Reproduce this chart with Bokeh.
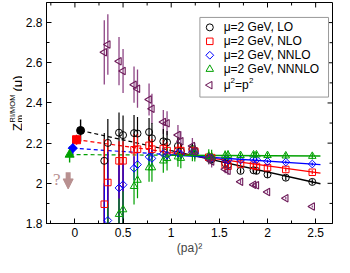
import math
from bokeh.plotting import figure
from bokeh.layouts import row
from bokeh.models import (Range1d, LinearAxis, FixedTicker, NumeralTickFormatter,
                          Label, Arrow, NormalHead)
from bokeh.core.properties import value
from bokeh.embed import file_html
from bokeh.resources import INLINE

# ---------------- data ----------------
pa2 = [0.305, 0.342, 0.458, 0.500, 0.614, 0.650, 0.770, 0.800, 0.918, 0.957, 1.070, 1.100,
       1.220, 1.245, 1.390, 1.420, 1.560, 1.590, 1.720, 1.855, 1.885, 2.000, 2.190, 2.465]

lo_y = [2.112, 2.201, 2.252, 2.240, 2.250, 2.248, 2.255, 2.224, 2.209, 2.204, 2.186, 2.160,
        2.170, 2.160, 2.125, 2.120, 2.100, 2.092, 2.062, 2.065, 2.062, 2.044, 2.028, 2.007]
lo_low = [1.70, 1.70, 1.70, 1.70, 2.16, 2.16, 2.185, 2.15, 2.15, 2.15, 2.14, 2.12,
          2.14, 2.13, 2.10, 2.095, 2.08, 2.07, 2.049, 2.050, 2.047, 2.028, 2.014, 1.994]
lo_high = [2.25, 2.32, 2.352, 2.337, 2.34, 2.33, 2.325, 2.30, 2.27, 2.26, 2.23, 2.20,
           2.20, 2.19, 2.15, 2.145, 2.12, 2.115, 2.075, 2.080, 2.077, 2.060, 2.042, 2.020]

nlo_y = [1.896, 2.004, 2.112, 2.112, 2.167, 2.170, 2.189, 2.170, 2.173, 2.163, 2.163, 2.163,
         2.163, 2.160, 2.130, 2.128, 2.093, 2.085, 2.096, 2.090, 2.084, 2.078, 2.069, 2.055]
nlo_low = [1.70, 1.70, 1.70, 1.70, 2.09, 2.09, 2.14, 2.12, 2.13, 2.12, 2.13, 2.13,
           2.14, 2.14, 2.115, 2.113, 2.081, 2.073, 2.086, 2.080, 2.074, 2.068, 2.059, 2.045]
nlo_high = [2.22, 2.22, 2.21, 2.21, 2.245, 2.25, 2.24, 2.22, 2.215, 2.205, 2.195, 2.195,
            2.186, 2.183, 2.145, 2.143, 2.105, 2.097, 2.106, 2.100, 2.094, 2.088, 2.079, 2.065]

nnlo_y = [1.620, 1.815, 1.977, 1.993, 2.075, 2.093, 2.132, 2.124, 2.147, 2.140, 2.150, 2.145,
          2.155, 2.150, 2.128, 2.125, 2.118, 2.115, 2.116, 2.120, 2.118, 2.109, 2.106, 2.096]
nnlo_low = [1.30, 1.50, 1.75, 1.75, 2.015, 2.033, 2.09, 2.084, 2.117, 2.110, 2.13, 2.125,
            2.14, 2.135, 2.115, 2.112, 2.106, 2.103, 2.108, 2.112, 2.110, 2.101, 2.098, 2.088]
nnlo_high = [2.00, 2.157, 2.09, 2.10, 2.135, 2.153, 2.172, 2.164, 2.177, 2.170, 2.17, 2.165,
             2.17, 2.165, 2.141, 2.138, 2.130, 2.127, 2.124, 2.128, 2.126, 2.117, 2.114, 2.104]

nnnlo_y = [1.550, 1.650, 1.846, 1.869, 1.985, 2.016, 2.078, 2.078, 2.112, 2.124, 2.132, 2.125,
           2.150, 2.148, 2.135, 2.132, 2.138, 2.140, 2.139, 2.142, 2.142, 2.139, 2.137, 2.135]
nnnlo_low = [1.30, 1.40, 1.72, 1.77, 1.895, 1.926, 2.008, 2.008, 2.052, 2.064, 2.082, 2.075,
             2.110, 2.108, 2.100, 2.097, 2.113, 2.115, 2.124, 2.127, 2.127, 2.124, 2.122, 2.120]
nnnlo_high = [1.80, 1.90, 1.925, 1.96, 2.075, 2.106, 2.148, 2.148, 2.172, 2.184, 2.182, 2.175,
              2.190, 2.188, 2.170, 2.167, 2.163, 2.165, 2.154, 2.157, 2.157, 2.154, 2.152, 2.150]

mom_y = [2.652, 2.691, 2.608, 2.559, 2.491, 2.471, 2.417, 2.371, 2.305, 2.299, 2.240, 2.209,
         2.186, 2.160, 2.124, 2.109, 2.070, 2.062, 2.008, 1.993, 1.990, 1.957, 1.926, 1.885]
mom_err = [0.16, 0.15, 0.12, 0.11, 0.09, 0.095, 0.08, 0.075, 0.06, 0.06, 0.05, 0.05,
           0.04, 0.04, 0.03, 0.03, 0.02, 0.02, 0.01, 0.01, 0.01, 0.008, 0.006, 0.005]

# extrapolated (filled) points: LO, NLO, NNLO, NNNLO
ext_x = [0.059, 0.017, -0.022, -0.055]
ext_y = [2.263, 2.217, 2.175, 2.143]
ext_err = [0.055, 0.025, 0.030, 0.040]

# fitted lines: dashed from the filled point to 1.0, solid from 1.0 to 2.55
fit_lo_x = [0.059, 1.0, 2.55];    fit_lo_y = [2.263, 2.163, 1.998]
fit_nlo_x = [0.017, 1.0, 2.55];   fit_nlo_y = [2.217, 2.153, 2.051]
fit_nnlo_x = [-0.022, 1.0, 2.55]; fit_nnlo_y = [2.175, 2.142, 2.093]
fit_nnnlo_x = [-0.055, 1.0, 2.55]; fit_nnnlo_y = [2.143, 2.140, 2.136]

labels = ["\u03bc=2 GeV, LO", "\u03bc=2 GeV, NLO", "\u03bc=2 GeV, NNLO", "\u03bc=2 GeV, NNNLO"]

x_ticks = [0, 0.5, 1, 1.5, 2, 2.5]
x_minor = [-0.25, 0.25, 0.75, 1.25, 1.75, 2.25]
y_ticks = [1.8, 2.0, 2.2, 2.4, 2.6, 2.8]
y_minor = [1.9, 2.1, 2.3, 2.5, 2.7]

# ---------------- layout ----------------
X0, X1 = -0.295, 2.675
Y0, Y1 = 1.8, 2.9
H = 257
LW = 22                 # narrow strip on the left that carries the y-axis title
W = 334 - LW            # main plot width
BL, BR, BT, BB = 21, 2, 2, 33
FW, FH = W - BL - BR, H - BT - BB
ppx = FW / (X1 - X0)
ppy = FH / (Y1 - Y0)

def dx(px):
    return px / ppx

def dy(px):
    return px / ppy

FONT = "Liberation Sans"
BLACK, RED, BLUE, GREEN = "#000000", "#ff0000", "#0000ff", "#00a000"
PURPLE, PURPLE_BAR = "#6e1c5a", "#8e4585"

p = figure(width=W, height=H, output_backend="svg", toolbar_location=None,
           x_range=Range1d(X0, X1), y_range=Range1d(Y0, Y1),
           x_axis_location=None, y_axis_location=None,
           min_border_left=BL, min_border_right=BR, min_border_top=BT, min_border_bottom=BB)
p.grid.visible = False
p.outline_line_color = "black"
p.outline_line_width = 1
p.background_fill_color = "white"
p.border_fill_color = "white"

def make_axis(ticks, minor):
    ax = LinearAxis(ticker=FixedTicker(ticks=ticks, minor_ticks=minor),
                    formatter=NumeralTickFormatter(format="0.[0]"))
    ax.major_tick_in = 5
    ax.major_tick_out = 0
    ax.minor_tick_in = 3
    ax.minor_tick_out = 0
    ax.axis_line_color = "black"
    ax.major_tick_line_color = "black"
    ax.minor_tick_line_color = "black"
    ax.major_label_text_font = FONT
    ax.major_label_text_font_size = "12px"
    ax.major_label_text_color = "black"
    ax.major_label_standoff = 4
    return ax

xax = make_axis(x_ticks, x_minor)
xax.axis_label = "(pa)\u00b2"
xax.axis_label_text_font = FONT
xax.axis_label_text_font_size = "12px"
xax.axis_label_text_font_style = "normal"
xax.axis_label_standoff = 1
p.add_layout(xax, "below")
p.add_layout(make_axis(y_ticks, y_minor), "left")

# mirrored inward ticks on top and right edges
p.segment(x_ticks, Y1, x_ticks, Y1 - dy(5), line_color="black", line_width=1)
p.segment(x_minor, Y1, x_minor, Y1 - dy(3), line_color="black", line_width=1)
p.segment(X1, y_ticks, X1 - dx(5), y_ticks, line_color="black", line_width=1)
p.segment(X1, y_minor, X1 - dx(3), y_minor, line_color="black", line_width=1)

# fit lines
for fx, fy, c in [(fit_lo_x, fit_lo_y, BLACK), (fit_nlo_x, fit_nlo_y, RED),
                  (fit_nnlo_x, fit_nnlo_y, BLUE), (fit_nnnlo_x, fit_nnnlo_y, GREEN)]:
    p.line(fx[:2], fy[:2], line_color=c, line_width=1.2, line_dash="4 3")
    p.line(fx[1:], fy[1:], line_color=c, line_width=1.4)

# error bars
mom_low = [y - e for y, e in zip(mom_y, mom_err)]
mom_high = [y + e for y, e in zip(mom_y, mom_err)]
p.segment(pa2, mom_low, pa2, mom_high, line_color=PURPLE_BAR, line_width=1.3)
for lowv, highv, c in [(lo_low, lo_high, BLACK), (nlo_low, nlo_high, RED),
                       (nnlo_low, nnlo_high, BLUE), (nnnlo_low, nnnlo_high, GREEN)]:
    p.segment(pa2, lowv, pa2, highv, line_color=c, line_width=1.2)

ext_low = [y - e for y, e in zip(ext_y, ext_err)]
ext_high = [y + e for y, e in zip(ext_y, ext_err)]
ext_cols = [BLACK, RED, BLUE, GREEN]
p.segment(ext_x, ext_low, ext_x, ext_high, line_color=ext_cols, line_width=1.4)

# marker styles
M_LO = dict(marker="circle", size=7, line_color=BLACK, fill_color=None, line_width=1)
M_NLO = dict(marker="square", size=6.5, line_color=RED, fill_color=None, line_width=1)
M_NNLO = dict(marker="square", size=5.5, angle=math.pi / 4, line_color=BLUE, fill_color=None, line_width=1)
M_NNNLO = dict(marker="triangle", size=7.5, line_color=GREEN, fill_color=None, line_width=1)
M_MOM = dict(marker="triangle", size=7.5, angle=math.pi / 2, line_color=PURPLE, fill_color=None, line_width=1.1)

p.scatter(pa2, lo_y, **M_LO)
p.scatter(pa2, nlo_y, **M_NLO)
p.scatter(pa2, nnlo_y, **M_NNLO)
p.scatter(pa2, nnnlo_y, **M_NNNLO)
p.scatter(pa2, mom_y, **M_MOM)

# filled extrapolated markers
p.scatter(ext_x[0:1], ext_y[0:1], marker="circle", size=8, color=BLACK)
p.scatter(ext_x[1:2], ext_y[1:2], marker="square", size=8, color=RED)
p.scatter(ext_x[2:3], ext_y[2:3], marker="square", size=6.5, angle=math.pi / 4, color=BLUE)
p.scatter(ext_x[3:4], ext_y[3:4], marker="triangle", size=9, color=GREEN)

# "?" and arrow
Q_COLOR = "#b89090"
q_x, q_y = -0.189, 2.02
arrow_x, arrow_top, arrow_tip = -0.07, 2.055, 1.972
p.add_layout(Label(x=q_x, y=q_y, text="?", text_font="Liberation Serif", text_font_size="17px",
                   text_color=Q_COLOR, text_align="center", text_baseline="middle"))
p.add_layout(Arrow(x_start=arrow_x, y_start=arrow_top, x_end=arrow_x, y_end=arrow_tip,
                   line_color=Q_COLOR, line_width=5,
                   end=NormalHead(size=10, fill_color=Q_COLOR, line_color=Q_COLOR, line_width=1)))

# ---------------- legend (drawn by hand so the marker orientation matches) ----------------
LEG_W, LEG_RIGHT_GAP, LEG_TOP_GAP, LEG_H = 130, 4, 15, 80
leg_left = X1 - dx(LEG_RIGHT_GAP + LEG_W)
leg_right = X1 - dx(LEG_RIGHT_GAP)
leg_top = Y1 - dy(LEG_TOP_GAP)
leg_bottom = Y1 - dy(LEG_TOP_GAP + LEG_H)
p.quad(left=[leg_left], right=[leg_right], top=[leg_top], bottom=[leg_bottom],
       fill_color="white", line_color="#999999", line_width=1)
row_px = [10, 24, 38, 52, 68]
row_y = [leg_top - dy(r) for r in row_px]
mk_x = leg_left + dx(10)
tx_x = leg_left + dx(24)
for i, m in enumerate([M_LO, M_NLO, M_NNLO, M_NNNLO, M_MOM]):
    p.scatter([mk_x], [row_y[i]], **m)
p.text(x=[tx_x] * 4, y=row_y[:4], text=labels, text_font=value(FONT), text_font_size="12px",
       text_color="black", text_baseline="middle", text_align="left")
# last entry: mu^2 = p^2 with real superscripts
p.text(x=[tx_x, tx_x + dx(11.5)], y=[row_y[4], row_y[4]], text=["\u03bc", "=p"],
       text_font=value(FONT), text_font_size="12px", text_color="black",
       text_baseline="middle", text_align="left")
p.text(x=[tx_x + dx(7), tx_x + dx(25.5)], y=[row_y[4] + dy(5), row_y[4] + dy(5)], text=["2", "2"],
       text_font=value(FONT), text_font_size="8px", text_color="black",
       text_baseline="middle", text_align="left")

# ---------------- narrow strip carrying the y-axis title Z_m^{RI/MOM}(mu) ----------------
lab = figure(width=LW, height=H, output_backend="svg", toolbar_location=None,
             x_range=Range1d(0, LW), y_range=Range1d(0, H),
             x_axis_location=None, y_axis_location=None,
             min_border_left=0, min_border_right=0, min_border_top=0, min_border_bottom=0)
lab.grid.visible = False
lab.outline_line_color = None
lab.background_fill_color = "white"
lab.border_fill_color = "white"

yl_base = 16.5           # baseline position (px from strip's left edge)
yl_center = H - 137      # centre of the title along the axis (px from bottom)
yl_start = yl_center - 27.5
for txt, xo, yo, fs in [("Z", 0, 0, "13px"), ("m", 2.5, 8.5, "9px"),
                        ("RI/MOM", -5, 8.5, "7.5px"), ("(\u03bc)", 0, 39.5, "13px")]:
    lab.add_layout(Label(x=yl_base + xo, y=yl_start + yo, text=txt, angle=math.pi / 2,
                         x_units="screen", y_units="screen",
                         text_font=FONT, text_font_size=fs, text_color="black",
                         text_align="left", text_baseline="alphabetic"))

layout = row(lab, p)
open("out.html", "w").write(file_html(layout, INLINE))
